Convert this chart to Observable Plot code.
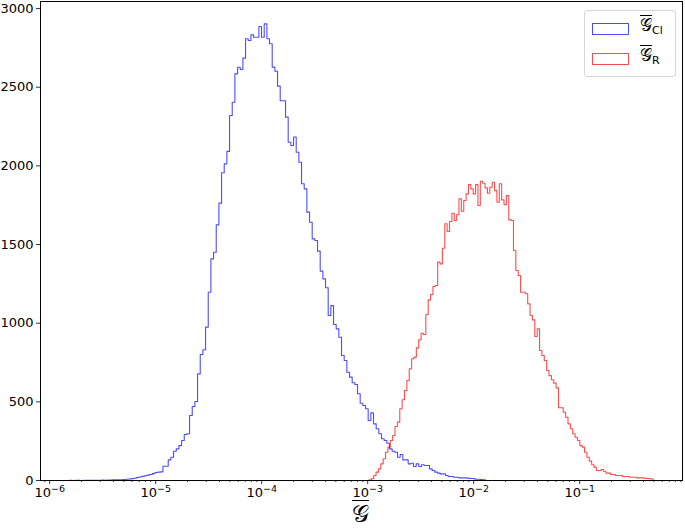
<!DOCTYPE html>
<html><head><meta charset="utf-8">
<script src="https://cdn.jsdelivr.net/npm/d3@7"></script>
<script src="https://cdn.jsdelivr.net/npm/@observablehq/plot@0.6"></script>
<style>
body{margin:0;background:#fff;}
#wrap{position:relative;width:685px;height:529px;font-family:"DejaVu Sans",sans-serif;color:#000;overflow:hidden;}
#legend{position:absolute;left:584px;top:10px;width:92px;height:67px;border:1px solid #d6d6d6;border-radius:3px;background:rgba(255,255,255,0.8);box-sizing:border-box;}
.row{position:absolute;left:7px;height:14px;display:flex;align-items:center;}
.patch{width:37px;height:12px;box-sizing:border-box;border:1px solid;}
.lab{position:absolute;left:55px;font-size:17px;white-space:nowrap;}
.ob{display:inline-block;border-top:1.2px solid #000;line-height:1;padding-top:1px;font-family:"DejaVu Serif","DejaVu Sans",serif;}
.sub{font-size:11px;vertical-align:-3px;}
#xlabel{position:absolute;left:352px;top:500px;font-size:24px;line-height:1;}
#xlabel .ob{border-top-width:1.8px;}
</style></head><body>
<div id="wrap"></div>
<script>
// Histogram of G-bar for the two series (log-spaced bins)
const seriesNames = ["Cl", "R"];
const blueLogStart = -5.812, blueLogEnd = -1.889;
const blueCounts = [
 1,0,1,1,0,2,1,1,2,1,2,2,3,2,3,3,4,4,
 5,5,6,8,10,12,14,19,22,26,30,34,38,44,51,53,55,
 91,91,131,148,186,201,222,254,292,297,413,470,502,678,801,831,975,1197,1409,1451,
 1625,1763,1956,2013,2092,2320,2405,2585,2627,2613,2685,2808,2797,2833,2818,2818,2886,2818,2903,2808,
 2776,2628,2602,2507,2414,2414,2310,2150,2130,2184,2087,2023,1886,1854,1706,1642,1536,1526,1458,1331,
 1282,1225,1049,1112,992,964,911,795,763,688,657,621,610,551,491,477,456,381,430,360,
 329,297,265,254,237,201,186,180,148,165,131,131,106,110,89,106,89,100,95,95,
 74,64,53,47,42,42,32,25,25,21,21,17,17,17,15,13,13,8,8,6,5
];
const redLogStart = -2.988, redLogEnd = -0.306;
const redCounts = [
 5,11,32,53,74,106,138,180,212,254,286,343,371,456,513,572,636,710,774,784,
 843,894,936,928,1055,1148,1182,1233,1240,1388,1377,1476,1632,1583,1646,1699,1653,1689,1790,1712,
 1780,1822,1881,1854,1822,1881,1748,1902,1890,1860,1826,1864,1896,1843,1769,1886,1784,1754,1811,1657,
 1653,1462,1335,1303,1197,1197,1187,1123,1049,1021,915,964,826,795,763,699,667,640,619,589,
 462,462,434,402,360,329,297,275,254,222,212,180,148,123,100,85,64,64,70,59,
 47,47,38,38,32,32,32,25,25,25,21,21,21,17,17,17,15,13,12,10
];
const yTicks = [0, 500, 1000, 1500, 2000, 2500, 3000];
const xTickExponents = [-6, -5, -4, -3, -2, -1];
const xDomainLog = [-6.0868, -0.0302];
const yMax = 3045;

function stepPoints(logStart, logEnd, counts, name) {
  const n = counts.length, w = (logEnd - logStart) / n;
  const pts = [{x: 10 ** logStart, y: 0, s: name}];
  counts.forEach((c, i) => pts.push({x: 10 ** (logStart + i * w), y: c, s: name}));
  pts.push({x: 10 ** logEnd, y: counts[n - 1], s: name});
  pts.push({x: 10 ** logEnd, y: 0, s: name});
  return pts;
}
const blueData = stepPoints(blueLogStart, blueLogEnd, blueCounts, seriesNames[0]);
const redData = stepPoints(redLogStart, redLogEnd, redCounts, seriesNames[1]);

const majors = xTickExponents.map(e => 10 ** e);
const minors = [];
for (let e = -7; e <= 0; e++) for (let m = 2; m <= 9; m++) {
  const v = m * 10 ** e;
  if (Math.log10(v) > xDomainLog[0] && Math.log10(v) < xDomainLog[1]) minors.push(v);
}

const chart = Plot.plot({
  width: 685, height: 529,
  marginLeft: 40, marginRight: 3, marginTop: 1, marginBottom: 49,
  style: {fontFamily: "DejaVu Sans, sans-serif", fontSize: "13px", color: "#000", background: "#fff"},
  x: {type: "log", domain: xDomainLog.map(v => 10 ** v), label: null},
  y: {domain: [0, yMax], label: null},
  marks: [
    Plot.axisX({ticks: minors, tickSize: 2, tickFormat: () => "", label: null, strokeWidth: 0.8}),
    Plot.axisX({ticks: majors, tickSize: 4, tickPadding: 3, label: null, strokeWidth: 0.8,
      tickFormat: d => "10^" + Math.round(Math.log10(d))}),
    Plot.axisY({ticks: yTicks, tickSize: 4, tickPadding: 3, label: null, strokeWidth: 0.8,
      tickFormat: d => String(d)}),
    Plot.line(blueData, {x: "x", y: "y", curve: "step-after", stroke: "blue", strokeOpacity: 0.7, strokeWidth: 1.1}),
    Plot.line(redData, {x: "x", y: "y", curve: "step-after", stroke: "red", strokeOpacity: 0.7, strokeWidth: 1.1}),
    Plot.frame({stroke: "#000", strokeWidth: 1})
  ]
});
const wrap = document.getElementById("wrap");
wrap.appendChild(chart);

// render 10^e as real superscripts
d3.select(chart).selectAll("text").each(function() {
  const t = this.textContent;
  if (t.startsWith("10^")) {
    const e = t.slice(3).replace("-", "\u2212");
    const sel = d3.select(this);
    sel.text("10");
    sel.append("tspan").attr("dy", "-0.5em").attr("font-size", "9.5px").text(e);
  }
});

const legend = document.createElement("div");
legend.id = "legend";
const colors = ["rgba(0,0,255,0.7)", "rgba(255,0,0,0.7)"];
seriesNames.forEach((nm, i) => {
  const row = document.createElement("div");
  row.className = "row";
  row.style.top = (11 + i * 30) + "px";
  row.innerHTML = `<div class="patch" style="border-color:${colors[i]}"></div>`;
  legend.appendChild(row);
  const lab = document.createElement("div");
  lab.className = "lab";
  lab.style.top = (4 + i * 30) + "px";
  lab.innerHTML = `<span class="ob">\u{1D4A2}</span><span class="sub">${nm}</span>`;
  legend.appendChild(lab);
});
wrap.appendChild(legend);

const xl = document.createElement("div");
xl.id = "xlabel";
xl.innerHTML = `<span class="ob">\u{1D4A2}</span>`;
wrap.appendChild(xl);
</script>
</body></html>
